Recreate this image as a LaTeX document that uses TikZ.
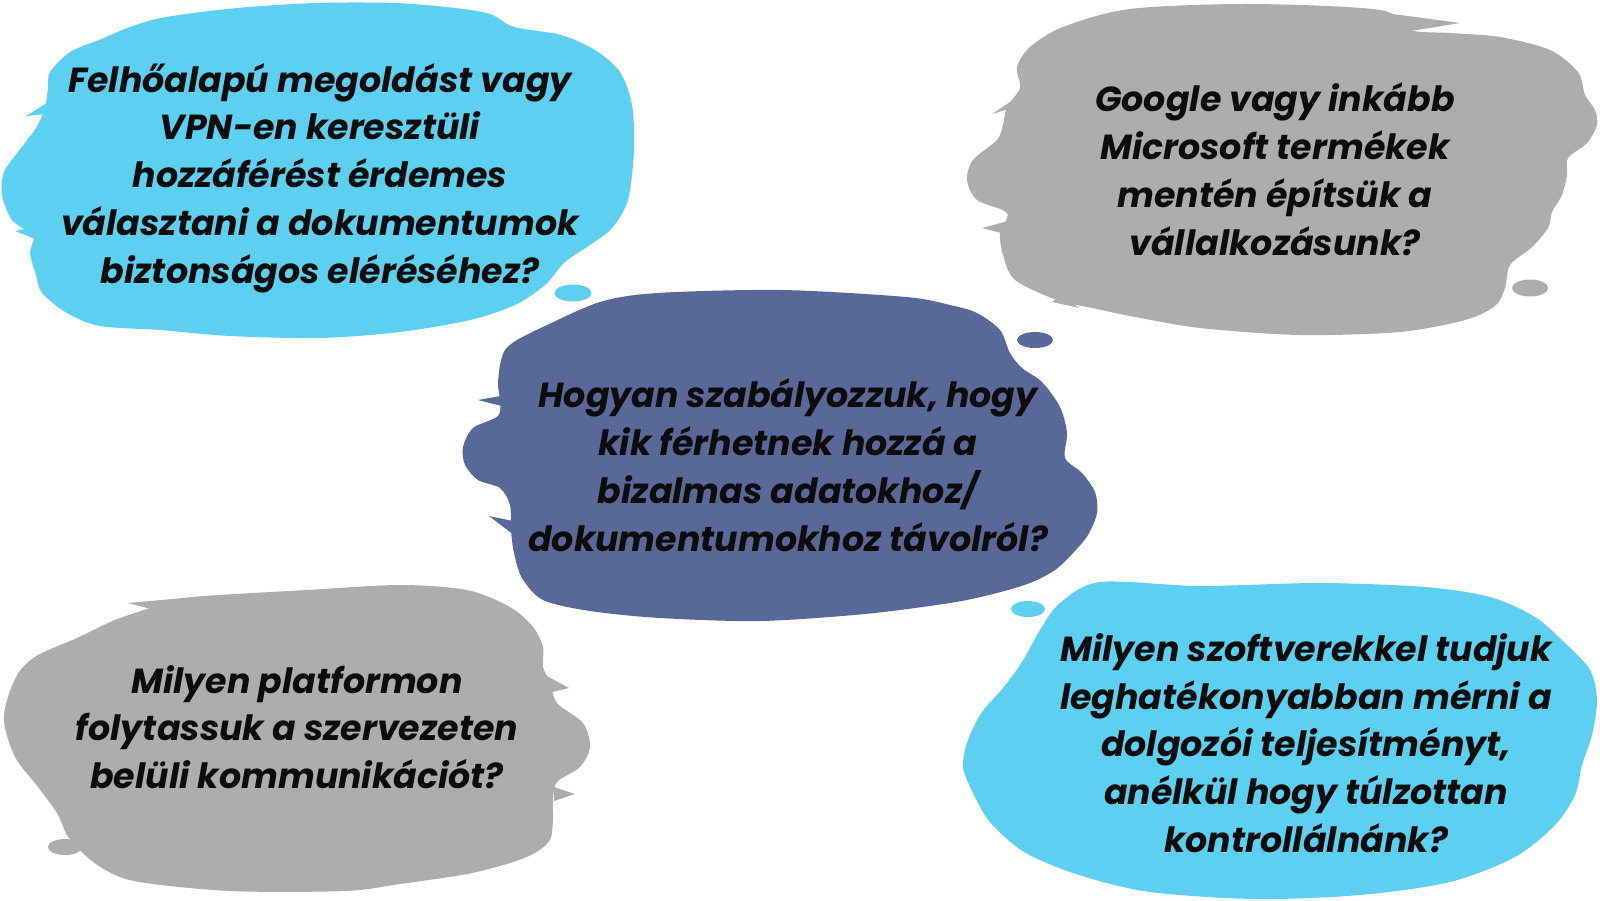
\documentclass[tikz,border=0pt]{standalone}
\usepackage{fontspec}
\setmainfont{Poppins}
\definecolor{blobcyan}{RGB}{93,208,242}
\definecolor{blobgray}{RGB}{173,173,173}
\definecolor{blobslate}{RGB}{88,104,152}
\definecolor{txt}{RGB}{12,12,12}
\tikzset{
  qtext/.style={align=center, text=txt, font=\bfseries\itshape\fontsize{17.4}{23.9}\selectfont, inner sep=0pt},
  blob/.style={smooth cycle, tension=0.5},
}
\begin{document}
\begin{tikzpicture}[x=0.5pt,y=-0.5pt]
\useasboundingbox[fill=white] (0,0) rectangle (1600,900);
% ---------- top-left cyan blob
\fill[blobcyan] plot[blob] coordinates {(50,72) (70,52) (99,40) (130,27) (166,17) (237,8) (316,3) (395,3) (455,8) (490,14) (514,27) (561,35) (595,50) (620,72) (632,105) (634,150) (628,200) (612,228) (590,245) (565,262) (545,285) (515,305) (470,320) (400,332) (320,338) (230,336) (160,330) (100,326) (67,313) (42,293) (36,275) (30,253) (33,236) (12,220) (2,195) (4,172) (18,152) (36,128) (45,108) (48,88)};
\fill[blobcyan] (52,100) -- (26,116) -- (46,114) -- cycle;
\fill[blobcyan] (40,226) -- (15,231) -- (38,240) -- cycle;
\fill[blobcyan] (470,10) -- (500,19) -- (480,22) -- cycle;
\fill[blobcyan] (573,293) ellipse [x radius=18.5, y radius=8.5];
% ---------- centre slate blob
\fill[blobslate] plot[blob] coordinates {(517,340) (545,326) (600,302) (657,293) (782,290) (906,297) (950,305) (977,313) (1000,330) (1010,353) (1022,368) (1042,382) (1060,407) (1067,433) (1065,458) (1082,473) (1095,492) (1097,513) (1088,535) (1073,553) (1055,570) (1030,583) (993,594) (950,603) (865,614) (760,621) (660,618) (590,611) (543,600) (522,578) (514,553) (511,530) (510,505) (500,488) (478,480) (465,465) (463,447) (473,428) (498,416) (500,400) (498,385) (500,365) (505,350)};
\fill[blobslate] (612,304) -- (552,326) -- (595,318) -- cycle;
\fill[blobslate] (506,395) -- (478,400) -- (506,407) -- cycle;
\fill[blobslate] (513,521) -- (489,516) -- (514,535) -- cycle;
\fill[blobslate] (1035,340) ellipse [x radius=18, y radius=8];
% ---------- top-right gray blob
\fill[blobgray] plot[blob] coordinates {(1017,67) (1030,47) (1063,27) (1130,9) (1250,4) (1380,10) (1410,30) (1450,33) (1500,37) (1550,50) (1578,72) (1585,95) (1595,110) (1597,125) (1587,143) (1568,158) (1567,175) (1562,195) (1552,212) (1548,228) (1532,247) (1510,265) (1505,288) (1495,306) (1465,320) (1400,332) (1300,335) (1200,328) (1130,316) (1097,309) (1057,300) (1015,280) (1003,255) (1000,233) (1007,213) (977,200) (967,180) (973,160) (997,140) (1003,125) (1007,107) (1020,88)};
\fill[blobgray] (1370,11) -- (1460,23) -- (1405,32) -- cycle;
\fill[blobgray] (1022,94) -- (992,114) -- (1012,108) -- cycle;
\fill[blobgray] (1008,221) -- (982,228) -- (1005,234) -- cycle;
\fill[blobgray] (1060,296) -- (1052,302) -- (1080,308) -- cycle;
\fill[blobgray] (1530,288) ellipse [x radius=18, y radius=8.5];
% ---------- bottom-left gray blob
\fill[blobgray] plot[blob] coordinates {(160,605) (192,597) (307,590) (400,585) (467,590) (510,607) (533,627) (543,647) (543,667) (550,682) (557,703) (583,723) (590,747) (580,767) (557,782) (553,800) (553,820) (550,840) (535,853) (510,863) (467,874) (400,884) (345,891) (230,891) (134,881) (96,864) (69,838) (57,813) (38,787) (15,757) (4,722) (8,697) (19,672) (38,655) (77,638) (115,620)};
\fill[blobgray] (195,597) -- (128,603) -- (170,614) -- cycle;
\fill[blobgray] (543,674) -- (569,688) -- (548,693) -- cycle;
\fill[blobgray] (554,787) -- (575,794) -- (554,801) -- cycle;
\fill[blobgray] (65,847) ellipse [x radius=17, y radius=8];
% ---------- bottom-right cyan blob
\fill[blobcyan] plot[blob] coordinates {(1060,603) (1100,582) (1200,586) (1320,583) (1425,587) (1490,597) (1535,617) (1565,643) (1590,670) (1597,700) (1592,735) (1582,765) (1575,795) (1555,825) (1515,857) (1450,882) (1360,895) (1256,899) (1150,892) (1079,875) (1024,852) (990,822) (974,795) (963,767) (968,740) (982,712) (1003,688) (1022,662) (1040,630)};
\fill[blobcyan] (1028,609) ellipse [x radius=17, y radius=8];
% ---------- texts
\node[qtext] (q1) at (320,178) {Felhőalapú megoldást vagy\\VPN-en keresztüli\\hozzáférést érdemes\\választani a dokumentumok\\biztonságos eléréséhez?};
\node[qtext] (q2) at (1275,169) {Google vagy inkább\\Microsoft termékek\\mentén építsük a\\vállalkozásunk?};
\node[qtext] (q3) at (788,465) {Hogyan szabályozzuk, hogy\\kik férhetnek hozzá a\\bizalmas adatokhoz/\\dokumentumokhoz távolról?};
\node[qtext] (q4) at (297,727) {Milyen platformon\\folytassuk a szervezeten\\belüli kommunikációt?};
\node[qtext] (q5) at (1306,743) {Milyen szoftverekkel tudjuk\\leghatékonyabban mérni a\\dolgozói teljesítményt,\\anélkül hogy túlzottan\\kontrollálnánk?};
\end{tikzpicture}
\end{document}
